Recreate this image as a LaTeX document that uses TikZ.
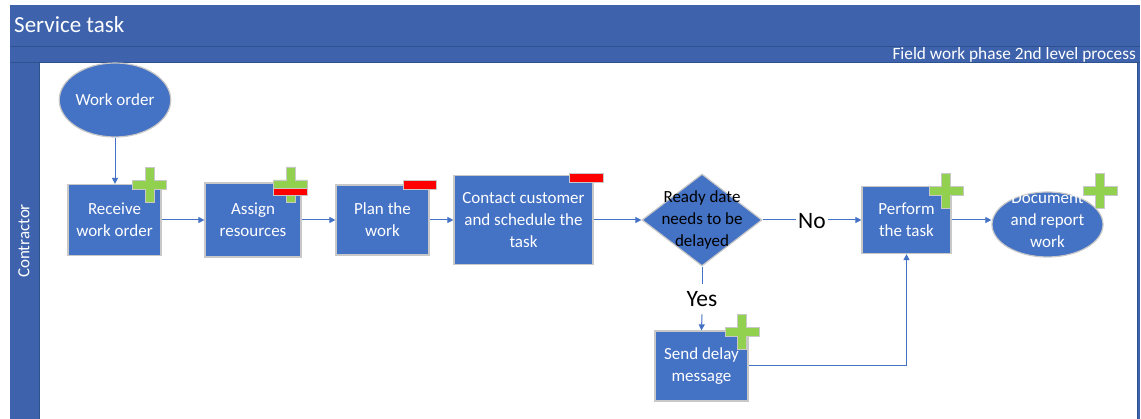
\documentclass[tikz,border=0pt]{standalone}
\usepackage{fontspec}
\setmainfont{Carlito}
\usetikzlibrary{shapes.geometric,arrows.meta}

\definecolor{laneblue}{RGB}{62,99,172}
\definecolor{laneline}{RGB}{47,82,143}
\definecolor{shapeblue}{RGB}{68,114,196}
\definecolor{shapeedge}{RGB}{200,200,200}
\definecolor{plusgreen}{RGB}{146,208,80}
\definecolor{minusred}{RGB}{255,0,0}

\tikzset{
  boxtext/.style={font=\fontsize{17}{22}\selectfont, text=white, align=center, inner sep=0pt},
  taskbox/.style={rectangle, fill=shapeblue, draw=shapeedge, line width=1.2pt, inner sep=0pt, boxtext},
  terminal/.style={ellipse, fill=shapeblue, draw=shapeedge, line width=1.2pt, inner sep=0pt, boxtext},
  decision/.style={diamond, fill=shapeblue, draw=shapeedge, line width=1.2pt, inner sep=0pt},
  branch/.style={font=\fontsize{23.5}{28}\selectfont, text=black, inner xsep=2pt, inner ysep=7.5pt},
  link/.style={draw=shapeblue, line width=1pt},
  flow/.style={link, -{Triangle[length=6pt,width=6pt]}},
  minus sign/.style={fill=minusred, draw=shapeedge, line width=0.8pt},
  plus sign/.pic={
    \filldraw[fill=plusgreen, draw=shapeedge, line width=0.8pt]
      (-4.5,-17.5) -- (4.5,-17.5) -- (4.5,-4.5) -- (17,-4.5) -- (17,4.5)
      -- (4.5,4.5) -- (4.5,17.5) -- (-4.5,17.5) -- (-4.5,4.5) -- (-17,4.5)
      -- (-17,-4.5) -- (-4.5,-4.5) -- cycle;
  }
}

\begin{document}
\begin{tikzpicture}[x=1pt, y=-1pt]
  % page and swimlane frame
  \fill[white] (0,0) rectangle (1141,419);
  \useasboundingbox (0,0) rectangle (1141,419);
  \fill[laneblue] (10,5) rectangle (1140,419);
  \fill[white] (39,62) rectangle (1137,419);
  \draw[laneline, line width=1pt] (10,47) -- (1140,47);
  \draw[laneline, line width=0.8pt] (10,62) -- (1140,62);
  \draw[laneline, line width=0.8pt] (39,62) -- (39,419);
  \draw[laneline, line width=1pt] (1137.5,62) -- (1137.5,419);

  \node[anchor=base west, font=\fontsize{23}{28}\selectfont, text=white, inner sep=0pt]
    (title) at (14,33) {Service task};
  \node[anchor=base east, font=\fontsize{17.3}{20}\selectfont, text=white, inner sep=0pt]
    (phase) at (1136,60) {Field work phase 2nd level process};
  \node[rotate=90, font=\fontsize{17}{20}\selectfont, text=white, inner sep=0pt]
    (lane) at (24,241) {Contractor};

  % process steps
  \node[terminal, minimum width=110pt, minimum height=74pt] (wo) at (115,100) {Work order};
  \node[taskbox, minimum width=93pt, minimum height=71pt] (recv) at (114.5,220) {Receive\\work order};
  \node[taskbox, minimum width=96pt, minimum height=74pt] (assign) at (253,220) {Assign\\resources};
  \node[taskbox, minimum width=93pt, minimum height=70pt] (plan) at (382.5,220) {Plan the\\work};
  \node[taskbox, minimum width=139pt, minimum height=89pt] (contact) at (523.5,220) {Contact customer\\and schedule the\\task};
  \node[decision, minimum width=120pt, minimum height=92pt] (dec) at (702,220) {};
  \node[boxtext, text=black] (dectext) at (702,220) {Ready date\\needs to be\\delayed};
  \node[branch] (no) at (812,221) {No};
  \node[taskbox, minimum width=89pt, minimum height=67pt] (perf) at (906.5,220) {Perform\\the task};
  \node[terminal, minimum width=111pt, minimum height=65pt] (doc) at (1047.5,224.5) {};
  \node[boxtext] (doctext) at (1047.5,220) {Document\\and report\\work};
  \node[branch] (yes) at (702,299) {Yes};
  \node[taskbox, minimum width=93pt, minimum height=70pt] (send) at (701.5,366) {Send delay\\message};

  % connectors
  \draw[flow] (wo.south) -- (wo.south |- recv.north);
  \draw[flow] (recv.east) -- (assign.west);
  \draw[flow] (assign.east) -- (plan.west);
  \draw[flow] (plan.east) -- (contact.west);
  \draw[flow] (contact.east) -- (dec.west);
  \draw[link] (dec.east) -- (dec.east -| no.west);
  \draw[flow] (no.east |- perf.west) -- (perf.west);
  \draw[flow] (perf.east) -- (perf.east -| doc.west);
  \draw[link] (dec.south) -- (yes.north);
  \draw[flow] (yes.south) -- (send.north);
  \draw[flow] (send.east) -| (perf.south);

  % status markers
  \pic at (149.5,185) {plus sign};
  \pic at (290.5,184.5) {plus sign};
  \filldraw[minus sign] (273,188) rectangle (307,195);
  \filldraw[minus sign] (403,180) rectangle (436,189);
  \filldraw[minus sign] (569,173) rectangle (603,182);
  \pic at (946,191) {plus sign};
  \pic at (1100,191) {plus sign};
  \pic at (742,332) {plus sign};
\end{tikzpicture}
\end{document}
